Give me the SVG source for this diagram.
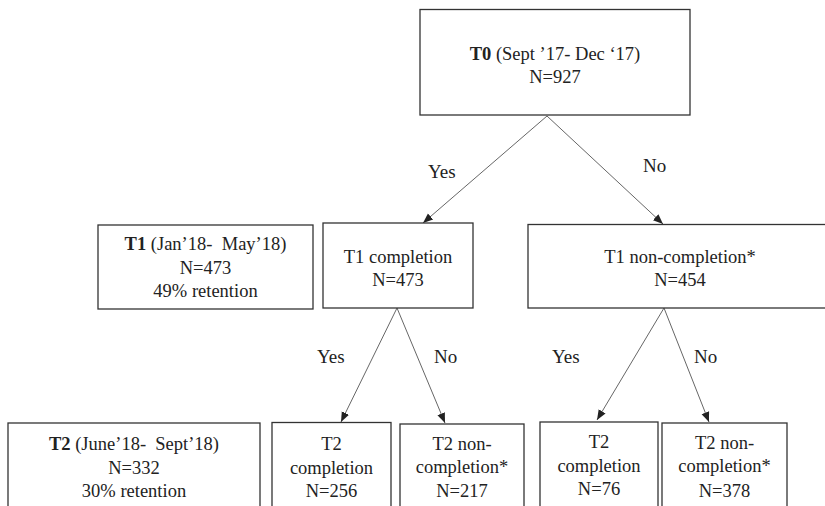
<svg xmlns="http://www.w3.org/2000/svg" width="825" height="506" viewBox="0 0 825 506">
<style>
.box{fill:#fff;stroke:#333;stroke-width:1.3}
.t{font-family:"Liberation Serif","Times New Roman",serif;font-size:18.5px;fill:#222;text-anchor:middle}
.lbl{font-family:"Liberation Serif","Times New Roman",serif;font-size:19px;fill:#222}
.b{font-weight:bold}
.c{stroke:#555;stroke-width:0.9;fill:none;marker-end:url(#ah)}
</style>
<defs>
<marker id="ah" viewBox="0 0 10 10" refX="10" refY="5" markerWidth="10" markerHeight="10" markerUnits="userSpaceOnUse" orient="auto">
<path d="M0,1 L10,5 L0,9 Z" fill="#222"/>
</marker>
</defs>
<rect width="825" height="506" fill="#fff"/>
<g id="connectors">
<line class="c" x1="547" y1="116" x2="423" y2="223"/>
<line class="c" x1="547" y1="116" x2="663" y2="224"/>
<line class="c" x1="397" y1="308" x2="341" y2="422"/>
<line class="c" x1="397" y1="308" x2="445" y2="423"/>
<line class="c" x1="664" y1="308" x2="597" y2="420"/>
<line class="c" x1="664" y1="308" x2="709" y2="422"/>
<text class="lbl" x="428" y="178">Yes</text>
<text class="lbl" x="643" y="172">No</text>
<text class="lbl" x="317" y="363">Yes</text>
<text class="lbl" x="434" y="363">No</text>
<text class="lbl" x="552" y="363">Yes</text>
<text class="lbl" x="694" y="363">No</text>
</g>
<g id="t0">
<rect class="box" x="420" y="9.5" width="270" height="105.5"/>
<text class="t" x="555" y="60"><tspan class="b">T0</tspan> (Sept ’17- Dec ‘17)</text>
<text class="t" x="555" y="83">N=927</text>
</g>
<g id="t1">
<rect class="box" x="98" y="225" width="215" height="84"/>
<text class="t" x="205.5" y="250"><tspan class="b">T1</tspan> (Jan’18-&#160; May’18)</text>
<text class="t" x="205.5" y="274">N=473</text>
<text class="t" x="205.5" y="297">49% retention</text>
</g>
<g id="t1-completion">
<rect class="box" x="323" y="223" width="150" height="85"/>
<text class="t" x="398" y="263">T1 completion</text>
<text class="t" x="398" y="286">N=473</text>
</g>
<g id="t1-noncompletion">
<rect class="box" x="528" y="224.5" width="306" height="83.5"/>
<text class="t" x="680" y="263">T1 non-completion*</text>
<text class="t" x="680" y="286">N=454</text>
</g>
<g id="t2">
<rect class="box" x="8" y="423" width="252" height="100"/>
<text class="t" x="134" y="450"><tspan class="b">T2</tspan> (June’18-&#160; Sept’18)</text>
<text class="t" x="134" y="474">N=332</text>
<text class="t" x="134" y="497">30% retention</text>
</g>
<g id="t2-completion-a">
<rect class="box" x="272" y="422.5" width="119" height="100"/>
<text class="t" x="331.5" y="450">T2</text>
<text class="t" x="331.5" y="474">completion</text>
<text class="t" x="331.5" y="497">N=256</text>
</g>
<g id="t2-noncompletion-a">
<rect class="box" x="400" y="424" width="124" height="100"/>
<text class="t" x="462" y="450">T2 non-</text>
<text class="t" x="462" y="473">completion*</text>
<text class="t" x="462" y="497">N=217</text>
</g>
<g id="t2-completion-b">
<rect class="box" x="540" y="422" width="118" height="100"/>
<text class="t" x="599" y="448">T2</text>
<text class="t" x="599" y="472">completion</text>
<text class="t" x="599" y="495">N=76</text>
</g>
<g id="t2-noncompletion-b">
<rect class="box" x="662" y="423" width="125" height="100"/>
<text class="t" x="724.5" y="449">T2 non-</text>
<text class="t" x="724.5" y="472">completion*</text>
<text class="t" x="724.5" y="497">N=378</text>
</g>
</svg>
